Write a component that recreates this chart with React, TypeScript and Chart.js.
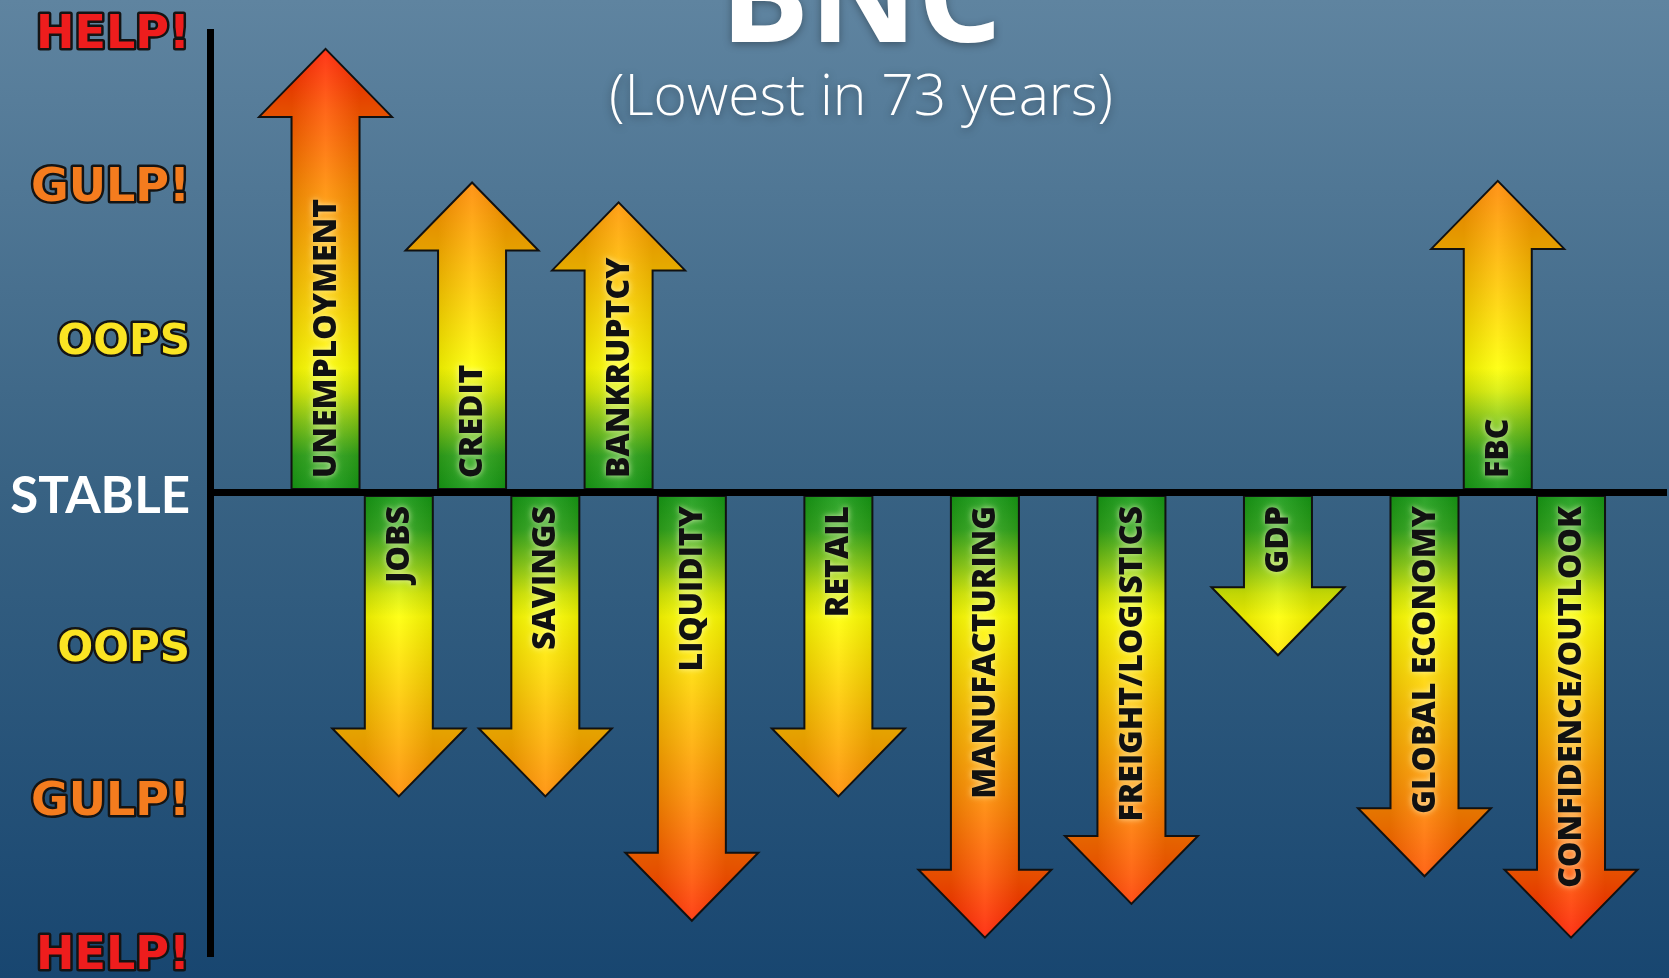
import React, { useEffect, useRef } from 'react';
import { Chart, registerables } from 'chart.js';

Chart.register(...registerables);

// ---- data ----
const categories = [
  'UNEMPLOYMENT', 'JOBS', 'CREDIT', 'SAVINGS', 'BANKRUPTCY', 'LIQUIDITY', 'RETAIL',
  'MANUFACTURING', 'FREIGHT/LOGISTICS', 'GDP', 'GLOBAL ECONOMY', 'FBC', 'CONFIDENCE/OUTLOOK',
];
const slots = [0, 1, 2, 3, 4, 5, 7, 9, 11, 13, 15, 16, 17];
const values = [2.89, -1.98, 2.02, -1.98, 1.89, -2.79, -1.98, -2.9, -2.68, -1.06, -2.5, 2.03, -2.9];
const tickValues = [3, 2, 1, 0, -1, -2, -3];
const tickLabels = ['HELP!', 'GULP!', 'OOPS', 'STABLE', 'OOPS', 'GULP!', 'HELP!'];
const titleText = 'BNC';
const subtitleText = '(Lowest in 73 years)';

// ---- styles ----
const tickColors = ['#ee1d1d', '#f47c1e', '#fbe423', '#ffffff', '#fbe423', '#f47c1e', '#ee1d1d'];
const tickSizes = [46, 46, 42, 51, 42, 46, 46];
const arrowStops: [number, string][] = [
  [0, '#139913'],
  [0.08, '#2ea51a'],
  [0.16, '#8ccd12'],
  [0.22, '#d8ee05'],
  [0.27, '#ffff00'],
  [0.45, '#ffc800'],
  [0.66, '#ff8c00'],
  [0.83, '#ff5600'],
  [0.97, '#ff1e00'],
  [1, '#ff1400'],
];

const idxOf = (v: number) => tickValues.indexOf(v);

const backgroundPlugin = {
  id: 'bg',
  beforeDraw(chart: any) {
    const { ctx, width, height } = chart;
    ctx.save();
    const g = ctx.createLinearGradient(0, 0, 0, height);
    g.addColorStop(0, '#5f84a0');
    g.addColorStop(0.5, '#386283');
    g.addColorStop(1, '#184670');
    ctx.fillStyle = g;
    ctx.fillRect(0, 0, width, height);
    ctx.restore();
    ctx.lineJoin = 'round';
    ctx.miterLimit = 2;
  },
};

const arrowPlugin = {
  id: 'arrows',
  afterDatasetsDraw(chart: any) {
    const ctx = chart.ctx;
    const yScale = chart.scales.y;
    const meta = chart.getDatasetMeta(0);
    const zero = yScale.getPixelForValue(0);
    const topPx = yScale.getPixelForValue(yScale.max);
    const botPx = yScale.getPixelForValue(yScale.min);
    meta.data.forEach((el: any, i: number) => {
      const { x, y, base, width } = el.getProps(['x', 'y', 'base', 'width'], true);
      const up = y < base;
      const dir = up ? 1 : -1;
      const headH = 68;
      const headW = 133;
      const sw = width;
      const neck = y + dir * headH;
      ctx.save();
      ctx.beginPath();
      ctx.moveTo(x - sw / 2, base);
      ctx.lineTo(x - sw / 2, neck);
      ctx.lineTo(x - headW / 2, neck);
      ctx.lineTo(x, y);
      ctx.lineTo(x + headW / 2, neck);
      ctx.lineTo(x + sw / 2, neck);
      ctx.lineTo(x + sw / 2, base);
      ctx.closePath();
      const g = ctx.createLinearGradient(0, zero, 0, up ? topPx : botPx);
      arrowStops.forEach(([o, c]) => g.addColorStop(o, c));
      ctx.fillStyle = g;
      ctx.fill();
      const h = ctx.createLinearGradient(x - sw / 2, 0, x + sw / 2, 0);
      h.addColorStop(0, 'rgba(0,0,0,0.10)');
      h.addColorStop(0.5, 'rgba(255,255,255,0.10)');
      h.addColorStop(1, 'rgba(0,0,0,0.10)');
      ctx.fillStyle = h;
      ctx.fill();
      ctx.lineWidth = 2;
      ctx.lineJoin = 'miter';
      ctx.miterLimit = 10;
      ctx.strokeStyle = '#111';
      ctx.stroke();

      ctx.translate(x, base - dir * (up ? 11 : 10));
      ctx.rotate(-Math.PI / 2);
      ctx.font = '800 32px "Open Sans"';
      ctx.textAlign = up ? 'left' : 'right';
      ctx.textBaseline = 'middle';
      ctx.shadowColor = 'rgba(255,255,210,0.75)';
      ctx.shadowBlur = 6;
      ctx.fillStyle = '#111';
      ctx.fillText(categories[i], 0, 1);
      ctx.restore();
    });
  },
};

const titlePlugin = {
  id: 'bncTitle',
  afterDraw(chart: any) {
    const ctx = chart.ctx;
    const cx = 861;
    ctx.save();
    ctx.fillStyle = '#ffffff';
    ctx.textAlign = 'center';
    ctx.textBaseline = 'alphabetic';
    ctx.shadowColor = 'rgba(0,0,0,0.35)';
    ctx.shadowBlur = 8;
    ctx.shadowOffsetY = 2;
    ctx.font = 'bold 133px "Open Sans"';
    ctx.fillText(titleText, cx, 42);
    ctx.font = '300 57px "Open Sans"';
    ctx.fillText(subtitleText, cx, 115);
    ctx.restore();
  },
};

export default function App() {
  const ref = useRef<HTMLCanvasElement | null>(null);

  useEffect(() => {
    if (!ref.current) return;
    const chart = new Chart(ref.current, {
      type: 'bar',
      data: {
        datasets: [
          {
            data: categories.map((c, i) => ({ x: slots[i], y: values[i] })),
            backgroundColor: 'rgba(0,0,0,0)',
            borderWidth: 0,
            barThickness: 68,
          },
        ],
      },
      options: {
        animation: false,
        responsive: true,
        maintainAspectRatio: false,
        events: [],
        layout: { padding: { left: 0, right: 2, top: 32, bottom: 25 } },
        plugins: {
          legend: { display: false },
          tooltip: { enabled: false },
          title: { display: false },
        },
        scales: {
          x: {
            type: 'linear',
            offset: false,
            grid: { offset: false },
            min: -1.577,
            max: 18.31,
            display: false,
          },
          y: {
            min: -3,
            max: 3,
            afterFit: (scale: any) => {
              scale.width = 210;
              scale.paddingTop = 0;
              scale.paddingBottom = 0;
            },
            afterBuildTicks: (scale: any) => {
              scale.ticks = tickValues.map((v) => ({ value: v }));
            },
            grid: {
              z: 1,
              drawTicks: false,
              lineWidth: 7,
              color: (ctx: any) => (ctx.tick && ctx.tick.value === 0 ? '#000000' : 'rgba(0,0,0,0)'),
            },
            border: { display: true, color: '#000000', width: 7, z: 1 },
            ticks: {
              z: 1,
              padding: 20,
              labelOffset: 4,
              callback: (v: any) => tickLabels[idxOf(Number(v))],
              color: (ctx: any) => (ctx.tick ? tickColors[idxOf(ctx.tick.value)] : '#fff'),
              font: (ctx: any) => {
                const i = ctx.tick ? idxOf(ctx.tick.value) : 3;
                if (i === 3) return { family: 'Lato', weight: 'bold', size: tickSizes[i], lineHeight: 1 };
                return { family: '"DejaVu Sans"', weight: 'bold', size: tickSizes[i], lineHeight: 1 };
              },
              textStrokeColor: '#141414',
              textStrokeWidth: (ctx: any) => (ctx.tick && ctx.tick.value === 0 ? 0 : 5),
            } as any,
          },
        },
      } as any,
      plugins: [backgroundPlugin, arrowPlugin, titlePlugin],
    });
    return () => chart.destroy();
  }, []);

  return (
    <div style={{ position: 'fixed', left: 0, top: 0, width: 1669, height: 978 }}>
      <canvas ref={ref} />
    </div>
  );
}
